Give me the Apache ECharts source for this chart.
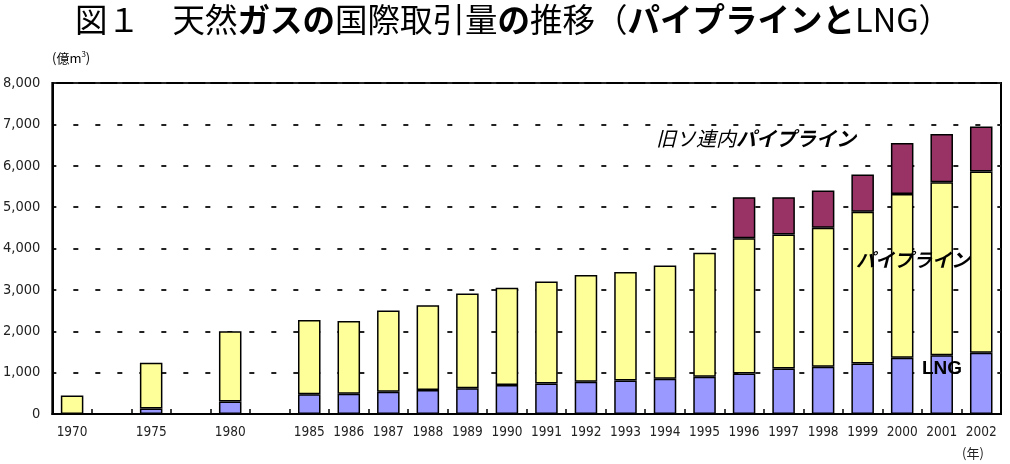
<!DOCTYPE html>
<html>
<head>
<meta charset="utf-8">
<title>天然ガスの国際取引量の推移</title>
<script src="https://cdn.jsdelivr.net/npm/echarts@6/dist/echarts.min.js"></script>
<style>
  html, body { margin: 0; padding: 0; background: #fff; }
  #chart { width: 1010px; height: 464px; }
</style>
</head>
<body>
<div id="chart"></div>
<script>
// 年（空欄は年の間隔を空けるためのもの）
const years = ['1970', '', '1975', '', '1980', '', '1985', '1986', '1987', '1988', '1989', '1990',
  '1991', '1992', '1993', '1994', '1995', '1996', '1997', '1998', '1999', '2000', '2001', '2002'];
// 単位：億m3
const lng = [null, null, 130, null, 300, null, 480, 490, 535, 580, 620, 700,
  740, 780, 810, 850, 900, 980, 1100, 1140, 1220, 1360, 1420, 1480];
const pipeline = [450, null, 1110, null, 1700, null, 1790, 1760, 1965, 2050, 2290, 2350,
  2460, 2580, 2620, 2740, 3000, 3270, 3240, 3360, 3670, 3960, 4180, 4380];
const sovietPipeline = [null, null, null, null, null, null, null, null, null, null, null, null,
  null, null, null, null, null, 990, 900, 900, 900, 1230, 1170, 1090];
const yMax = 8000;
const yStep = 1000;

const jp = '"Noto Sans CJK JP", sans-serif';
const num = '"DejaVu Sans Condensed", "DejaVu Sans", sans-serif';

const chart = echarts.init(document.getElementById('chart'));

const barStyle = (color) => ({
  color: color,
  borderColor: '#000',
  borderWidth: 1.5
});

const option = {
  animation: false,
  grid: {
    left: 52,
    right: 9,
    top: 83,
    bottom: 50,
    show: true,
    borderColor: '#000',
    borderWidth: 2
  },
  xAxis: {
    type: 'category',
    data: years,
    axisLine: { lineStyle: { color: '#000', width: 2 } },
    axisTick: {
      show: true,
      inside: true,
      length: 5,
      interval: 0,
      lineStyle: { color: '#000', width: 1.5 }
    },
    axisLabel: {
      interval: 0,
      margin: 11,
      color: '#222',
      fontFamily: num,
      fontSize: 13.5
    }
  },
  yAxis: {
    type: 'value',
    min: 0,
    max: yMax,
    interval: yStep,
    axisLine: { show: true, lineStyle: { color: '#000', width: 2 } },
    axisTick: { show: false },
    axisLabel: {
      margin: 12,
      color: '#222',
      fontFamily: num,
      fontSize: 14.5,
      formatter: (v) => v.toLocaleString('en-US')
    },
    splitLine: {
      show: true,
      lineStyle: { color: '#222', width: 1.8, type: [5, 17], dashOffset: 1 }
    }
  },
  series: [
    {
      name: 'LNG',
      type: 'bar',
      stack: 'total',
      barWidth: '57%',
      itemStyle: barStyle('#9999FF'),
      data: lng
    },
    {
      name: 'パイプライン',
      type: 'bar',
      stack: 'total',
      itemStyle: barStyle('#FFFF99'),
      data: pipeline
    },
    {
      name: '旧ソ連内パイプライン',
      type: 'bar',
      stack: 'total',
      itemStyle: barStyle('#993366'),
      data: sovietPipeline
    }
  ],
  graphic: [
    // タイトル
    {
      type: 'text',
      left: 75,
      top: 3,
      z: 100,
      style: {
        text: '{n|図１　天然}{b|ガスの}{n|国際取引量}{b|の}{n|推移（}{b|パイプラインと}{n|LNG）}',
        rich: {
          n: { fontFamily: jp, fontSize: 32.5, color: '#111' },
          b: { fontFamily: jp, fontSize: 32.5, fontWeight: 'bold', color: '#111' }
        }
      }
    },
    // 単位
    {
      type: 'text',
      left: 52,
      top: 50,
      z: 100,
      style: {
        text: '{a|(億m}{s|3}{a|)}',
        rich: {
          a: { fontFamily: jp, fontSize: 13, color: '#222' },
          s: { fontFamily: jp, fontSize: 8, color: '#222', verticalAlign: 'top', padding: [0, 0, 8, 0] }
        }
      }
    },
    {
      type: 'text',
      left: 962,
      top: 447,
      z: 100,
      style: { text: '(年)', fontFamily: jp, fontSize: 13, fill: '#222' }
    },
    // 系列ラベル
    {
      type: 'text',
      left: 656,
      top: 128,
      z: 100,
      style: {
        text: '{n|旧ソ連内}{b|パイプライン}',
        rich: {
          n: { fontFamily: jp, fontSize: 20, fontStyle: 'italic', color: '#000' },
          b: { fontFamily: jp, fontSize: 20, fontStyle: 'italic', fontWeight: 'bold', color: '#000' }
        }
      }
    },
    {
      type: 'text',
      left: 856,
      top: 250,
      z: 100,
      style: {
        text: 'パイプライン',
        fontFamily: jp,
        fontSize: 19,
        fontStyle: 'italic',
        fontWeight: 'bold',
        fill: '#000'
      }
    },
    {
      type: 'text',
      left: 922,
      top: 359,
      z: 100,
      style: {
        text: 'LNG',
        fontFamily: '"Liberation Sans", Arial, sans-serif',
        fontSize: 19,
        fontWeight: 'bold',
        fill: '#000'
      }
    }
  ]
};

chart.setOption(option);
</script>
</body>
</html>
